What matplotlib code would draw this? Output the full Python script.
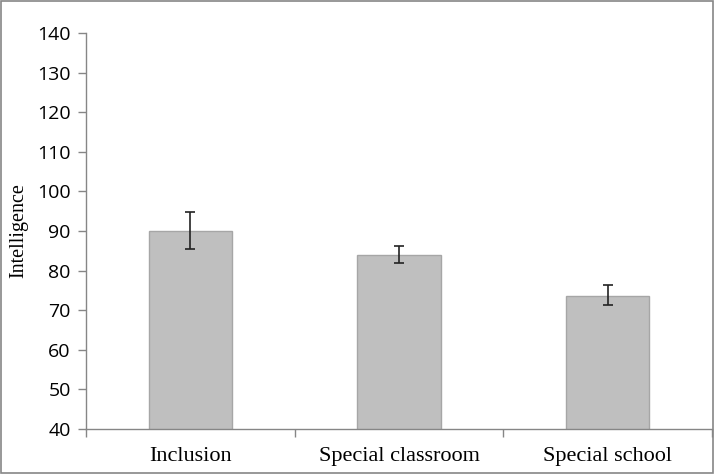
import matplotlib
matplotlib.use("Agg")
import matplotlib.pyplot as plt
from matplotlib.patches import Rectangle

categories = ["Inclusion", "Special classroom", "Special school"]
means = [90.0, 84.0, 73.6]
err_low = [85.4, 81.9, 71.3]
err_high = [94.8, 86.1, 76.3]
yticks = [40, 50, 60, 70, 80, 90, 100, 110, 120, 130, 140]

fig = plt.figure(figsize=(7.14, 4.74), dpi=100)
ax = fig.add_axes([86/714, 1-429/474, (712-86)/714, (429-33)/474])

x = list(range(len(categories)))
lower = [m - lo for m, lo in zip(means, err_low)]
upper = [hi - m for m, hi in zip(means, err_high)]
ax.bar(x, means, width=0.4, color="#bfbfbf", edgecolor="#a6a6a6", linewidth=1.0,
       bottom=0, zorder=2)
ax.errorbar(x, means, yerr=[lower, upper], fmt="none", ecolor="#222222",
            elinewidth=1.2, capsize=3.6, capthick=1.2, zorder=3)

ax.set_ylim(40, 140)
ax.set_xlim(-0.5, 2.5)
ax.set_yticks(yticks)
ax.set_yticklabels([str(v) for v in yticks], fontfamily="Open Sans", fontsize=14)
ax.set_xticks(x)
ax.set_xticklabels(categories, fontfamily="Liberation Serif", fontsize=16)
ax.set_xticks([-0.5, 0.5, 1.5, 2.5], minor=True)
ax.tick_params(axis="x", which="major", length=0, pad=13)
ax.tick_params(axis="x", which="minor", length=6, color="#868686", width=1)
ax.tick_params(axis="y", length=6, color="#868686", width=1, pad=5)

for s in ["top", "right"]:
    ax.spines[s].set_visible(False)
for s in ["left", "bottom"]:
    ax.spines[s].set_color("#868686")
    ax.spines[s].set_linewidth(1)

ax.set_ylabel("Intelligence", fontfamily="Liberation Serif", fontsize=14.5, labelpad=6)

fig.patches.append(Rectangle((0.002, 0.002), 0.996, 0.996, transform=fig.transFigure,
                             fill=False, edgecolor="#868686", linewidth=1.2))

fig.savefig("out.png", dpi=100)
